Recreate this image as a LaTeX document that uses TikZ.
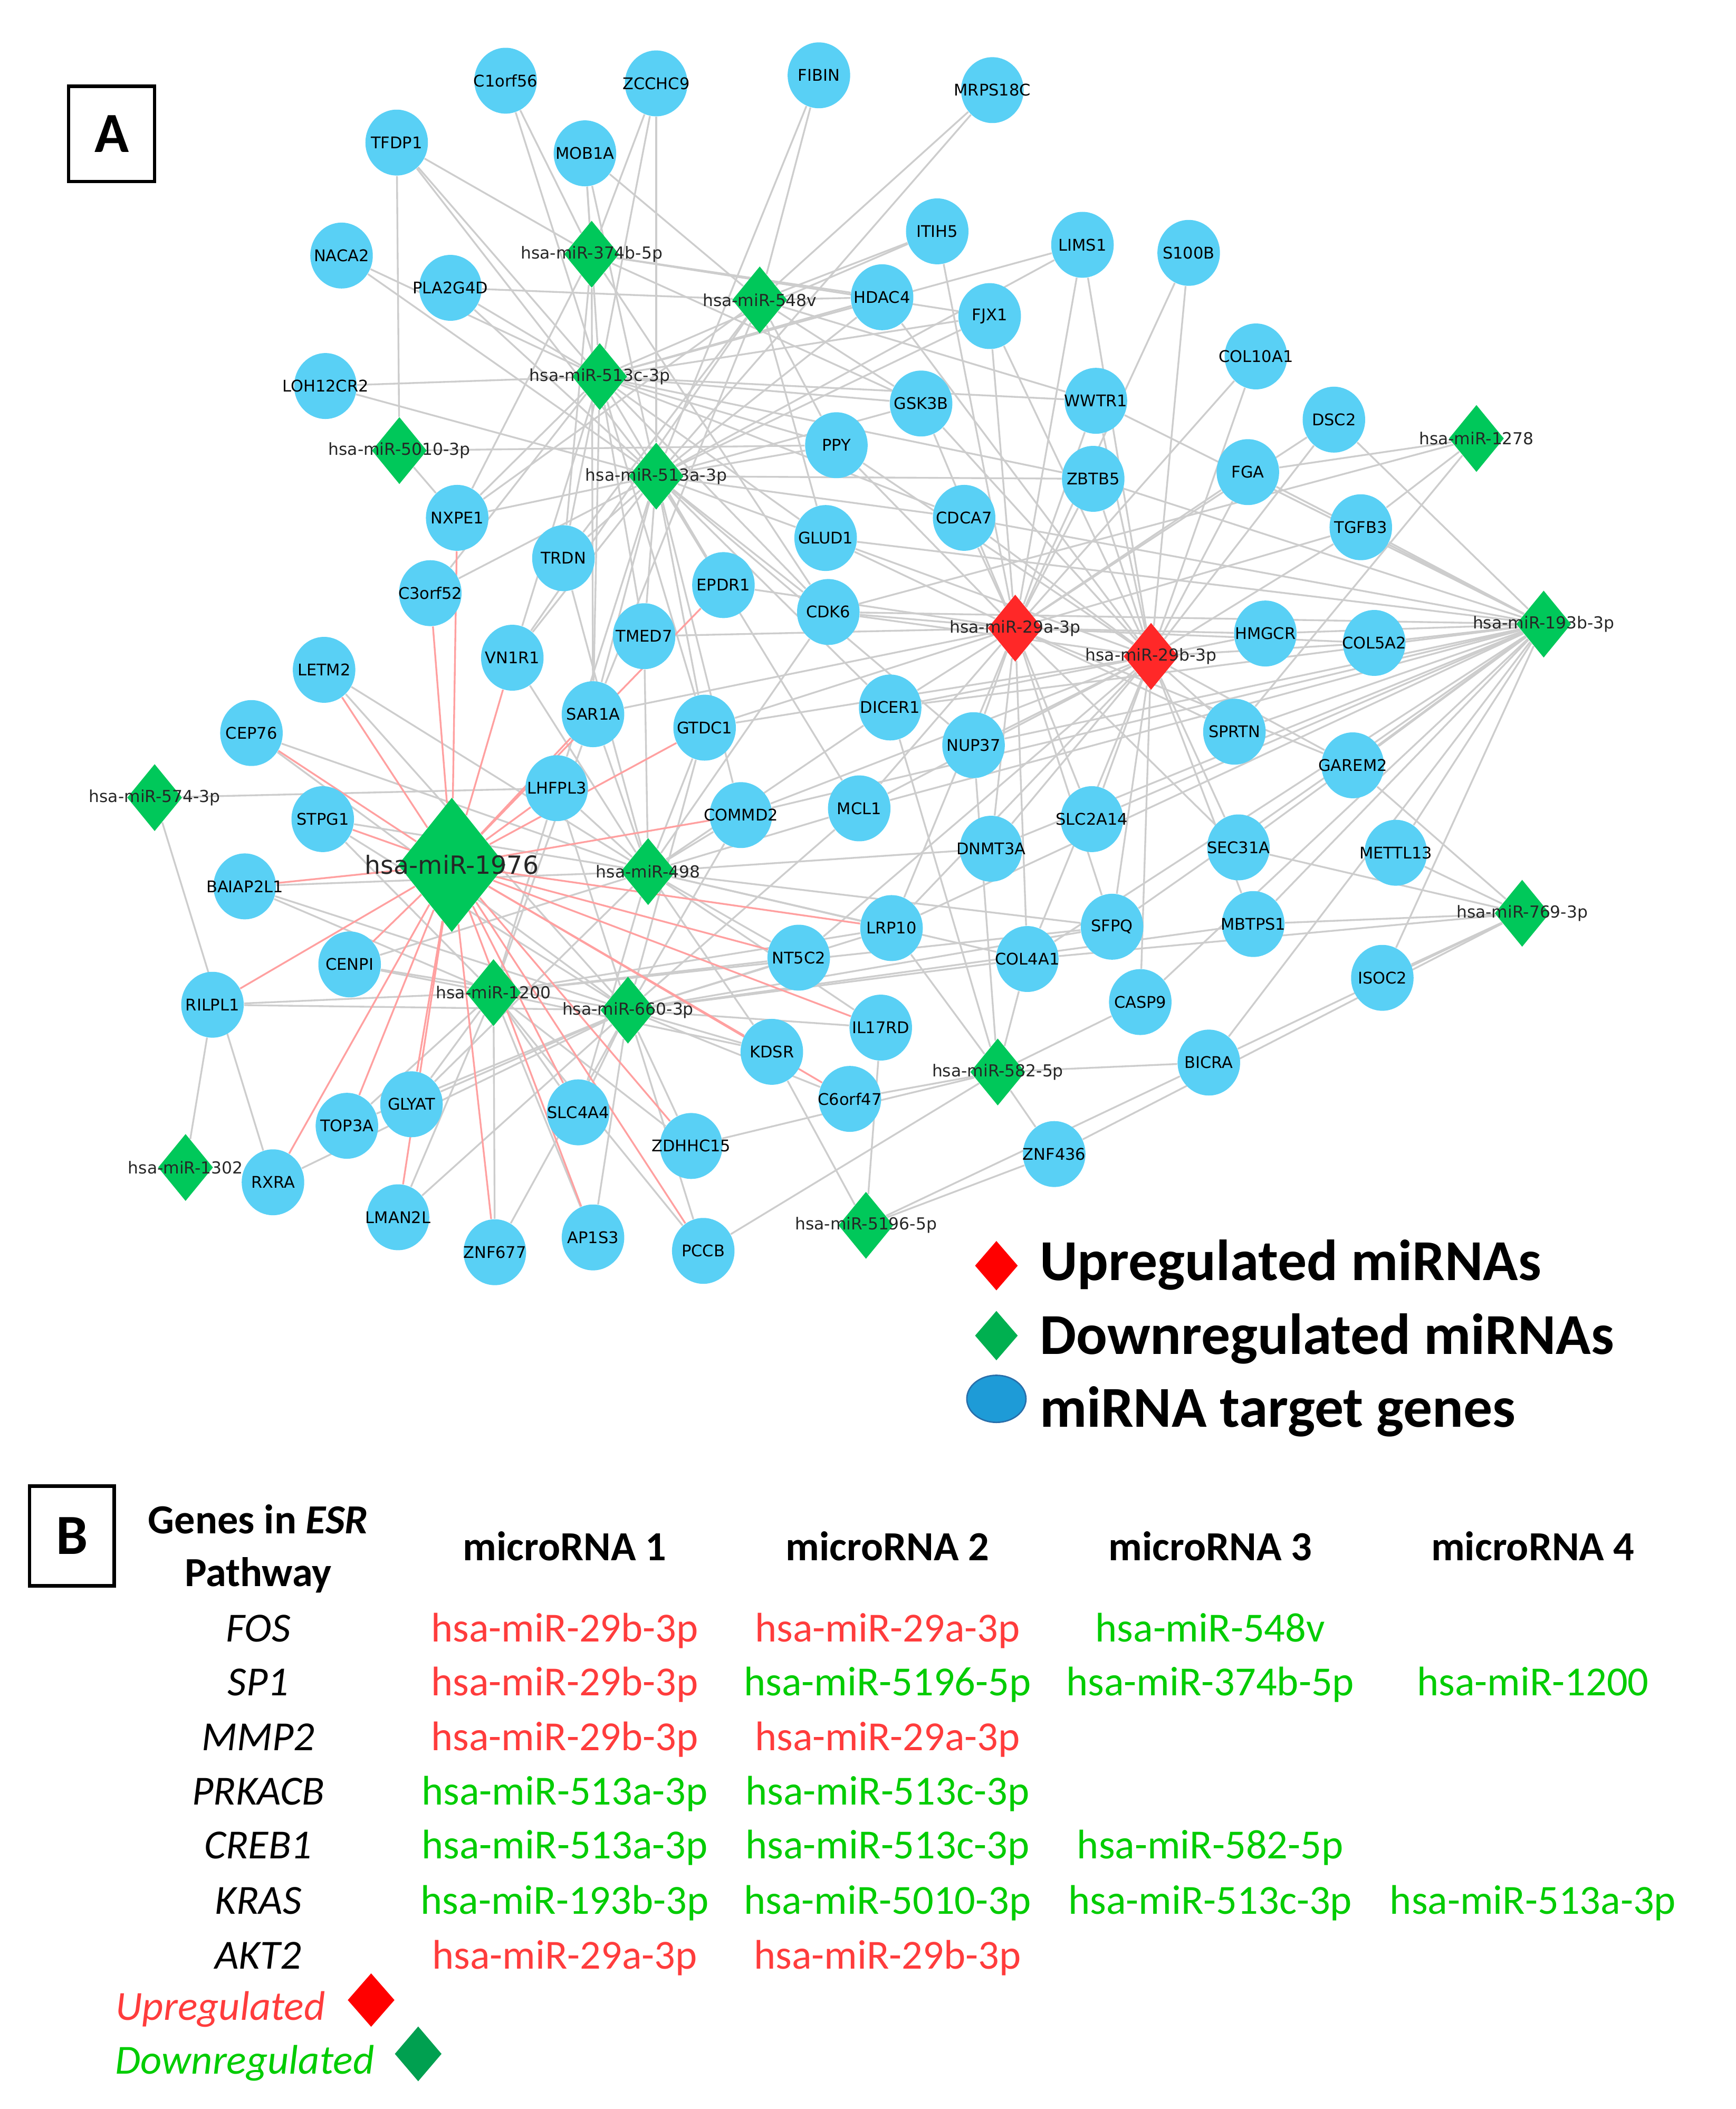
\documentclass[tikz,border=0pt]{standalone}
\usepackage{fontspec}
\setmainfont{Carlito}
\newfontfamily\netfont{DejaVu Sans}
\usetikzlibrary{shapes.geometric}
\pgfdeclarelayer{edges}
\pgfsetlayers{edges,main}
\definecolor{genecol}{RGB}{89,208,245}
\definecolor{downcol}{RGB}{0,200,90}
\definecolor{upcol}{RGB}{255,40,40}
\definecolor{edgegray}{RGB}{205,205,205}
\definecolor{edgepink}{RGB}{255,160,160}
\definecolor{legblue}{RGB}{30,155,215}
\definecolor{legedge}{RGB}{40,110,170}
\definecolor{legred}{RGB}{255,0,0}
\definecolor{leggreen}{RGB}{0,176,80}
\definecolor{tabred}{RGB}{255,60,60}
\definecolor{tabgreen}{RGB}{0,204,0}
\definecolor{tabdiam}{RGB}{0,160,80}
\tikzset{
  gene/.style={ellipse, fill=genecol, minimum width=0.93cm, minimum height=0.98cm, inner sep=0pt},
  genelab/.style={font=\netfont\fontsize{6.8}{7}\selectfont, text=black},
  mdown/.style={diamond, fill=downcol, minimum width=0.82cm, minimum height=1cm, inner sep=0pt},
  mup/.style={mdown, fill=upcol},
  mlab/.style={font=\netfont\fontsize{7}{8}\selectfont, text=black!85},
  gline/.style={edgegray, line width=0.75pt},
  pline/.style={edgepink, line width=0.75pt},
  legtext/.style={anchor=base west, font=\bfseries\fontsize{24.5}{28}\selectfont},
  cell/.style={anchor=base, font=\fontsize{17.5}{20}\selectfont},
  panel/.style={draw, line width=1.5pt, inner sep=0pt, font=\bfseries\fontsize{24}{28}\selectfont}
}

\begin{document}
\begin{tikzpicture}[x=0.02cm, y=-0.02cm]
      \useasboundingbox (0,0) rectangle (1291,1568);

      \node[panel, minimum width=1.28cm, minimum height=1.42cm] (panelA) at (83,99.5) {A};

      \foreach \n/\x/\y in {C1orf56/376/60, ZCCHC9/488/62, FIBIN/609/56, MRPS18C/738/67, TFDP1/295/106,
        MOB1A/435/114, NACA2/254/190, PLA2G4D/335/214, ITIH5/697/172, LIMS1/805/182, S100B/884/188,
        HDAC4/656/221, FJX1/736/235, LOH12CR2/242/287, GSK3B/685/300, WWTR1/815/298, COL10A1/934/265,
        DSC2/992/312, PPY/622/331, ZBTB5/813/356, FGA/928/351, NXPE1/340/385, CDCA7/717/385,
        GLUD1/614/400, TGFB3/1012/392, TRDN/419/415, C3orf52/320/441, EPDR1/538/435, CDK6/616/455,
        HMGCR/941/471, COL5A2/1022/478, LETM2/241/498, VN1R1/381/489, TMED7/479/473, SAR1A/441/531,
        GTDC1/524/541, DICER1/662/526, NUP37/724/554, SPRTN/918/544, GAREM2/1006/569, CEP76/187/545,
        LHFPL3/414/586, STPG1/240/609, COMMD2/551/606, MCL1/639/601, SLC2A14/812/609, DNMT3A/737/631,
        SEC31A/921/630, METTL13/1038/634, BAIAP2L1/182/659, LRP10/663/690, SFPQ/827/689, MBTPS1/932/687,
        NT5C2/594/712, COL4A1/764/713, CENPI/260/717, ISOC2/1028/727, RILPL1/158/747, CASP9/848/745,
        IL17RD/655/764, KDSR/574/782, BICRA/899/790, C6orf47/632/817, GLYAT/306/821, SLC4A4/430/827,
        TOP3A/258/837, ZDHHC15/514/852, ZNF436/784/858, RXRA/203/879, LMAN2L/296/905, AP1S3/441/920,
        ZNF677/368/931, PCCB/523/930}
        \node[gene, label={[genelab]center:\n}] (\n) at (\x,\y) {};

      \foreach \n/\x/\y/\t in {m374b/440/189/hsa-miR-374b-5p, m548v/565/223/hsa-miR-548v,
        m513c/446/280/hsa-miR-513c-3p, m5010/297/335/hsa-miR-5010-3p, m513a/488/354/hsa-miR-513a-3p,
        m1278/1098/326/hsa-miR-1278, m193b/1148/464/hsa-miR-193b-3p, m574/115/593/hsa-miR-574-3p,
        m498/482/648/hsa-miR-498, m769/1132/679/hsa-miR-769-3p, m1200/367/738/hsa-miR-1200,
        m660/467/751/hsa-miR-660-3p, m582/742/797/hsa-miR-582-5p, m1302/138/868/hsa-miR-1302,
        m5196/644/911/hsa-miR-5196-5p}
        \node[mdown, label={[mlab]center:\t}] (\n) at (\x,\y) {};
      \foreach \n/\x/\y/\t in {m29a/755/467/hsa-miR-29a-3p, m29b/856/488/hsa-miR-29b-3p}
        \node[mup, label={[mlab]center:\t}] (\n) at (\x,\y) {};
      \node[mdown, minimum width=1.6cm, minimum height=2cm,
        label={[font=\netfont\fontsize{10.6}{12}\selectfont, text=black!85]center:hsa-miR-1976}] (m1976) at (336,643) {};

      \begin{pgfonlayer}{edges}
      \foreach \m/\gl in {
        m374b/{C1orf56,TFDP1,MOB1A,ZCCHC9,HDAC4,FJX1,GSK3B,NXPE1,TRDN,CDK6,SAR1A},
        m548v/{MOB1A,FIBIN,MRPS18C,PLA2G4D,ITIH5,HDAC4,GSK3B,WWTR1,PPY,NXPE1,GLUD1,TRDN,VN1R1,SAR1A},
        m513c/{C1orf56,TFDP1,MOB1A,ZCCHC9,NACA2,PLA2G4D,LOH12CR2,ITIH5,LIMS1,HDAC4,FJX1,GSK3B,WWTR1,PPY,ZBTB5,NXPE1,CDCA7,GLUD1,TRDN,C3orf52,EPDR1,CDK6,VN1R1,TMED7,SAR1A,GTDC1},
        m5010/{TFDP1,NXPE1,PPY},
        m513a/{TFDP1,MOB1A,ZCCHC9,FIBIN,MRPS18C,NACA2,PLA2G4D,LOH12CR2,LIMS1,HDAC4,FJX1,GSK3B,PPY,ZBTB5,NXPE1,CDCA7,GLUD1,TRDN,C3orf52,EPDR1,CDK6,VN1R1,TMED7,SAR1A,GTDC1,DICER1,NUP37,LHFPL3,COMMD2,MCL1},
        m1278/{FGA,TGFB3,CDK6,SPRTN},
        m29a/{ITIH5,LIMS1,S100B,COL10A1,FJX1,GSK3B,WWTR1,DSC2,PPY,ZBTB5,FGA,CDCA7,GLUD1,TGFB3,EPDR1,CDK6,HMGCR,COL5A2,TMED7,SAR1A,GTDC1,DICER1,NUP37,SPRTN,GAREM2,MCL1,SLC2A14,DNMT3A,SEC31A,LRP10,SFPQ,COL4A1},
        m29b/{LIMS1,S100B,COL10A1,HDAC4,FJX1,GSK3B,WWTR1,DSC2,PPY,ZBTB5,FGA,CDCA7,GLUD1,TGFB3,CDK6,HMGCR,COL5A2,GTDC1,DICER1,NUP37,SPRTN,GAREM2,COMMD2,MCL1,SLC2A14,DNMT3A,SEC31A,LRP10,SFPQ,MBTPS1,NT5C2,COL4A1,CASP9},
        m193b/{WWTR1,DSC2,ZBTB5,FGA,CDCA7,GLUD1,TGFB3,CDK6,HMGCR,COL5A2,DICER1,NUP37,SPRTN,GAREM2,COMMD2,MCL1,SLC2A14,DNMT3A,SEC31A,METTL13,LRP10,SFPQ,MBTPS1,COL4A1,ISOC2,CASP9,BICRA},
        m574/{RXRA,LHFPL3},
        m498/{TRDN,CDK6,LETM2,VN1R1,TMED7,SAR1A,GTDC1,DICER1,CEP76,LHFPL3,STPG1,COMMD2,MCL1,DNMT3A,BAIAP2L1,LRP10,SFPQ,NT5C2,COL4A1,CENPI,IL17RD,KDSR,GLYAT,SLC4A4},
        m1200/{SAR1A,LHFPL3,STPG1,BAIAP2L1,LRP10,SFPQ,NT5C2,CENPI,RILPL1,KDSR,GLYAT,SLC4A4,TOP3A,ZDHHC15,LMAN2L,AP1S3,ZNF677,PCCB},
        m660/{GTDC1,LETM2,CEP76,LHFPL3,STPG1,COMMD2,MCL1,BAIAP2L1,LRP10,SFPQ,MBTPS1,NT5C2,COL4A1,CENPI,RILPL1,IL17RD,KDSR,C6orf47,GLYAT,SLC4A4,TOP3A,ZDHHC15,RXRA,LMAN2L,AP1S3,ZNF677,PCCB},
        m769/{GAREM2,SEC31A,METTL13,MBTPS1,COL4A1,ISOC2,BICRA,ZNF436},
        m582/{DICER1,NUP37,LRP10,COL4A1,CASP9,BICRA,C6orf47,ZDHHC15,ZNF436,PCCB},
        m1302/{RILPL1},
        m5196/{IL17RD,KDSR,BICRA,ZNF436}}
        \foreach \g in \gl
          \draw[gline] (\m) -- (\g);
      \foreach \g in {NXPE1,C3orf52,VN1R1,LETM2,CEP76,STPG1,BAIAP2L1,CENPI,RILPL1,RXRA,TOP3A,GLYAT,LMAN2L,
        ZNF677,AP1S3,PCCB,SLC4A4,ZDHHC15,KDSR,C6orf47,IL17RD,NT5C2,LRP10,COMMD2,GTDC1,LHFPL3,SAR1A,EPDR1}
        \draw[pline] (m1976) -- (\g);
      \end{pgfonlayer}

      \node[diamond, fill=legred, minimum width=0.64cm, minimum height=0.74cm, inner sep=0pt] (keyup) at (741,941) {};
      \node[diamond, fill=leggreen, minimum width=0.64cm, minimum height=0.74cm, inner sep=0pt] (keydown) at (741,993) {};
      \node[ellipse, fill=legblue, draw=legedge, line width=0.6pt, minimum width=0.88cm, minimum height=0.7cm, inner sep=0pt] (keygene) at (741,1040) {};
      \node[legtext] (keyuptext) at (767,952) {Upregulated miRNAs};
      \node[legtext] (keydowntext) at (767,1007) {Downregulated miRNAs};
      \node[legtext] (keygenetext) at (767,1061) {miRNA target genes};

      \node[panel, minimum width=1.26cm, minimum height=1.48cm] (panelB) at (53.5,1142) {B};
      \node[cell, font=\bfseries\fontsize{17.5}{20}\selectfont] (hgenes) at (192,1140) {Genes in \textit{ESR}};
      \node[cell, font=\bfseries\fontsize{17.5}{20}\selectfont] (hpath) at (192,1179.5) {Pathway};
      \node[cell, font=\bfseries\fontsize{17.5}{20}\selectfont] (hmir1) at (420,1160) {microRNA 1};
      \node[cell, font=\bfseries\fontsize{17.5}{20}\selectfont] (hmir2) at (660,1160) {microRNA 2};
      \node[cell, font=\bfseries\fontsize{17.5}{20}\selectfont] (hmir3) at (900,1160) {microRNA 3};
      \node[cell, font=\bfseries\fontsize{17.5}{20}\selectfont] (hmir4) at (1140,1160) {microRNA 4};

      \foreach \n/\y in {FOS/1220.5, SP1/1260.5, MMP2/1301.5, PRKACB/1342, CREB1/1382, KRAS/1423, AKT2/1464}
        \node[cell, font=\itshape\fontsize{17.5}{20}\selectfont] (row\n) at (192,\y) {\n};

      \node[cell, text=tabred] (fos1) at (420,1220.5) {hsa-miR-29b-3p};
      \node[cell, text=tabred] (fos2) at (660,1220.5) {hsa-miR-29a-3p};
      \node[cell, text=tabgreen] (fos3) at (900,1220.5) {hsa-miR-548v};
      \node[cell, text=tabred] (sp1a) at (420,1260.5) {hsa-miR-29b-3p};
      \node[cell, text=tabgreen] (sp1b) at (660,1260.5) {hsa-miR-5196-5p};
      \node[cell, text=tabgreen] (sp1c) at (900,1260.5) {hsa-miR-374b-5p};
      \node[cell, text=tabgreen] (sp1d) at (1140,1260.5) {hsa-miR-1200};
      \node[cell, text=tabred] (mmp1) at (420,1301.5) {hsa-miR-29b-3p};
      \node[cell, text=tabred] (mmp2) at (660,1301.5) {hsa-miR-29a-3p};
      \node[cell, text=tabgreen] (prk1) at (420,1342) {hsa-miR-513a-3p};
      \node[cell, text=tabgreen] (prk2) at (660,1342) {hsa-miR-513c-3p};
      \node[cell, text=tabgreen] (creb1) at (420,1382) {hsa-miR-513a-3p};
      \node[cell, text=tabgreen] (creb2) at (660,1382) {hsa-miR-513c-3p};
      \node[cell, text=tabgreen] (creb3) at (900,1382) {hsa-miR-582-5p};
      \node[cell, text=tabgreen] (kras1) at (420,1423) {hsa-miR-193b-3p};
      \node[cell, text=tabgreen] (kras2) at (660,1423) {hsa-miR-5010-3p};
      \node[cell, text=tabgreen] (kras3) at (900,1423) {hsa-miR-513c-3p};
      \node[cell, text=tabgreen] (kras4) at (1140,1423) {hsa-miR-513a-3p};
      \node[cell, text=tabred] (akt1) at (420,1464) {hsa-miR-29a-3p};
      \node[cell, text=tabred] (akt2) at (660,1464) {hsa-miR-29b-3p};

      \node[cell, text=tabred, font=\itshape\fontsize{17.5}{20}\selectfont] (uptext) at (164,1502) {Upregulated};
      \node[diamond, fill=legred, minimum width=0.7cm, minimum height=0.8cm, inner sep=0pt] (updiam) at (276,1487) {};
      \node[cell, text=tabgreen, font=\itshape\fontsize{17.5}{20}\selectfont] (downtext) at (182,1542) {Downregulated};
      \node[diamond, fill=tabdiam, minimum width=0.7cm, minimum height=0.82cm, inner sep=0pt] (downdiam) at (311,1527) {};
    \end{tikzpicture}
\end{document}
